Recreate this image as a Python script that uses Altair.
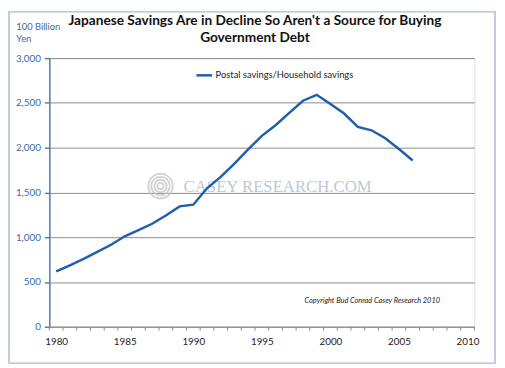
import altair as alt
import pandas as pd

years = list(range(1980, 2007))
values = [619, 685, 758, 835, 916, 1010, 1080, 1150, 1242, 1344, 1363, 1546, 1674,
          1821, 1980, 2132, 2250, 2388, 2524, 2590, 2487, 2381, 2231, 2194, 2106, 1985, 1857]
series_name = "Postal savings/Household savings"
x_labels = [1980, 1985, 1990, 1995, 2000, 2005, 2010]
y_ticks = [0, 500, 1000, 1500, 2000, 2500, 3000]
category_edges = [1979.5 + i for i in range(32)]
logo_sizes = [40, 160, 360, 620]
title_lines = ["Japanese Savings Are in Decline So Aren't a Source for Buying", "Government Debt"]

W, H = 432, 273
LINE_COLOR = "#1F5FAD"
AXIS_BLUE = "#4A7EBB"
LABEL_BLUE = "#3A6AA8"
GRID = "#8C8C8C"
FONT = "Lato"

df = pd.DataFrame({"year": years, "value": values, "series": series_name})

xscale = alt.Scale(domain=[1979.5, 2010.5], nice=False, zero=False)
yscale = alt.Scale(domain=[0, 3000], nice=False)

frame = alt.Chart(pd.DataFrame({"a": [0]})).mark_rect(
    fill=None, stroke="#A9BCD5", strokeWidth=1.5
).encode(x=alt.value(-41), x2=alt.value(453), y=alt.value(-47), y2=alt.value(310))

line = alt.Chart(df).mark_line(strokeWidth=2.5).encode(
    x=alt.X("year:Q", scale=xscale,
            axis=alt.Axis(values=x_labels, format="d", title=None, grid=False,
                          tickSize=0, labelPadding=10, labelFontSize=10,
                          labelColor="#222222", labelFont=FONT,
                          domainColor=GRID, domainWidth=1)),
    y=alt.Y("value:Q", scale=yscale,
            axis=alt.Axis(values=y_ticks, format=",.0f", grid=True, gridColor=GRID,
                          gridWidth=1, tickSize=5, tickColor=AXIS_BLUE, tickWidth=1.5,
                          domainColor=AXIS_BLUE, domainWidth=1.5, labelPadding=4,
                          labelFontSize=10, labelColor=LABEL_BLUE, labelFont=FONT,
                          title=["100 Billion", "Yen"], titleAngle=0, titleAlign="left",
                          titleBaseline="top", titleX=-34, titleY=-37.5, titleFont=FONT,
                          titleFontSize=9.5, titleFontWeight="normal",
                          titleColor=LABEL_BLUE, titleLineHeight=12.5)),
    color=alt.Color("series:N", scale=alt.Scale(range=[LINE_COLOR]),
                    legend=alt.Legend(orient="none", legendX=148, legendY=8, title=None,
                                      symbolType="stroke", symbolStrokeWidth=2.5,
                                      symbolSize=256, labelFontSize=9.5,
                                      labelFont=FONT, labelColor="#222222",
                                      labelOffset=2)),
)

ticks = alt.Chart(pd.DataFrame({"edge": category_edges})).mark_rule(
    color=GRID, strokeWidth=1
).encode(x=alt.X("edge:Q", scale=xscale), y=alt.value(H), y2=alt.value(H + 4))

logo = alt.Chart(pd.DataFrame({"s": logo_sizes})).mark_point(
    shape="circle", filled=False, color="#C4C4C4", strokeWidth=2
).encode(x=alt.value(113), y=alt.value(130), size=alt.Size("s:Q", scale=None, legend=None))

watermark = alt.Chart(pd.DataFrame({"t": ["CASEY RESEARCH.COM"]})).mark_text(
    font="Liberation Serif", fontSize=17, color="#BCC8DA", align="center", baseline="middle"
).encode(x=alt.value(232), y=alt.value(131), text="t:N")

copyright_txt = alt.Chart(pd.DataFrame({"t": ["Copyright Bud Conrad Casey Research 2010"]})).mark_text(
    font=FONT, fontSize=7.5, fontStyle="italic", color="#222222", align="right", baseline="middle"
).encode(x=alt.value(397), y=alt.value(247), text="t:N")

title1 = alt.Chart(pd.DataFrame({"t": [title_lines[0]]})).mark_text(
    font=FONT, fontSize=13.9, fontWeight="bold", color="#111111", align="center", baseline="middle"
).encode(x=alt.value(209), y=alt.value(-38), text="t:N")

title2 = alt.Chart(pd.DataFrame({"t": [title_lines[1]]})).mark_text(
    font=FONT, fontSize=13.9, fontWeight="bold", color="#111111", align="center", baseline="middle"
).encode(x=alt.value(209), y=alt.value(-20.5), text="t:N")

chart = alt.layer(frame, logo, watermark, copyright_txt, title1, title2, line, ticks).properties(
    width=W, height=H,
    padding={"left": 42, "top": 48, "right": 23, "bottom": 39},
    autosize=alt.AutoSizeParams(type="none"),
).configure_view(stroke=None).configure(background="white")

chart.save("out.html", embed_options={"renderer": "svg", "actions": False})
